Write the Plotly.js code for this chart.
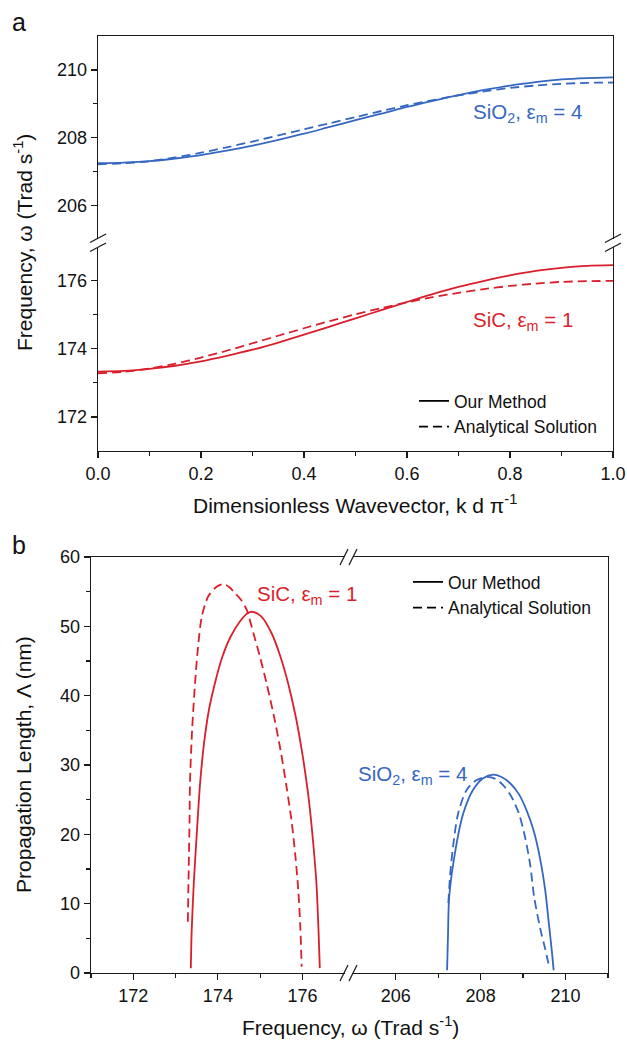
<!DOCTYPE html>
<html>
<head>
<meta charset="utf-8">
<script src="https://cdn.plot.ly/plotly-3.0.1.min.js"></script>
<style>html,body{margin:0;padding:0;background:#fff;}#chart{width:627px;height:1040px;}</style>
</head>
<body>
<div id="chart"></div>
<script>
// ---------- Panel a: dispersion, frequency vs dimensionless wavevector ----------
const kValues = [0,0.05,0.1,0.15,0.2,0.25,0.3,0.35,0.4,0.45,0.5,0.55,0.6,0.65,0.7,0.75,0.8,0.85,0.9,0.95,1.0];
const sio2OmegaOurs = [207.25,207.27,207.31,207.39,207.49,207.62,207.77,207.94,208.12,208.32,208.52,208.71,208.91,209.09,209.26,209.41,209.54,209.64,209.72,209.76,209.78];
const sio2OmegaAnalytic = [207.22,207.25,207.31,207.42,207.56,207.72,207.89,208.07,208.25,208.43,208.61,208.79,208.96,209.11,209.25,209.37,209.47,209.54,209.59,209.62,209.63];
const sicOmegaOurs = [173.33,173.35,173.41,173.50,173.63,173.79,173.97,174.18,174.41,174.65,174.89,175.13,175.37,175.60,175.81,175.99,176.15,176.28,176.37,176.43,176.45];
const sicOmegaAnalytic = [173.28,173.32,173.42,173.56,173.74,173.94,174.16,174.38,174.60,174.81,175.01,175.19,175.36,175.51,175.64,175.75,175.84,175.91,175.96,175.98,175.99];

// ---------- Panel b: propagation length vs frequency ----------
const sicFreqOurs = [173.36,173.38,173.43,173.50,173.58,173.67,173.79,173.93,174.10,174.30,174.52,174.70,174.82,175.03,175.27,175.47,175.66,175.84,176.00,176.14,176.25,176.33,176.38,176.41];
const sicLenOurs  = [0.7,6,12.9,20,27.4,33,38,41.8,45.5,48.5,50.7,51.9,52.1,51.4,49.0,45.8,41.8,37.0,31.5,25.5,19,12.9,6,0.7];
const sicFreqAnalytic = [173.29,173.31,173.33,173.34,173.39,173.46,173.53,173.62,173.77,173.97,174.13,174.28,174.40,174.55,174.68,174.84,175.00,175.15,175.32,175.48,175.62,175.74,175.83,175.90,175.95,175.98];
const sicLenAnalytic  = [7.4,15,22,27.4,35,41.8,47,51.4,54.3,55.7,56.1,55.6,54.8,53.8,52.4,49.0,45.5,41.8,37.2,32.2,27.0,22.0,17,12,6.5,0.9];
const sio2FreqOurs = [207.21,207.23,207.26,207.42,207.59,207.82,208.06,208.30,208.48,208.69,208.90,209.08,209.25,209.40,209.52,209.61,209.68,209.72];
const sio2LenOurs  = [0.4,5,11.0,18.2,23.0,26.4,28.1,28.6,28.3,27.4,25.8,23.5,20.5,16.5,12,7,3,0.4];
const sio2FreqAnalytic = [207.24,207.28,207.35,207.47,207.67,207.90,208.14,208.35,208.53,208.72,208.90,209.05,209.17,209.26,209.40,209.52,209.61];
const sio2LenAnalytic  = [10.1,14,18.2,23,26.4,27.8,28.3,28,27.1,25.5,23,19.5,15.5,11,6.5,3.5,1];

const seriesNames = ['Our Method','Analytical Solution'];
const labelSiC = 'SiC, ε<sub>m</sub> = 1';
const labelSiO2 = 'SiO<sub>2</sub>, ε<sub>m</sub> = 4';

const ticksA_top = [206,208,210], minorA_top = [207,209];
const ticksA_bot = [172,174,176], minorA_bot = [173,175];
const ticksB_left = [172,174,176], minorB_left = [171,173,175];
const ticksB_right = [206,208,210], minorB_right = [207,209,211];

// ---------- layout helpers ----------
const W = 627, H = 1040;
const px = x => x / W;
const py = y => 1 - y / H;
const RED = '#d91f2b', BLUE = '#3567c2';
const FONT = 'Arial, "Liberation Sans", sans-serif';
const LW = 1.8, DASH = '9px,5px';

function line(color, dash){ return {color: color, width: LW, dash: dash || 'solid', shape:'spline', smoothing:0.8}; }

const traces = [
  {x: kValues, y: sicOmegaOurs, xaxis:'x', yaxis:'y', mode:'lines', line: line(RED), showlegend:false},
  {x: kValues, y: sicOmegaAnalytic, xaxis:'x', yaxis:'y', mode:'lines', line: line(RED, DASH), showlegend:false},
  {x: kValues, y: sio2OmegaOurs, xaxis:'x2', yaxis:'y2', mode:'lines', line: line(BLUE), showlegend:false},
  {x: kValues, y: sio2OmegaAnalytic, xaxis:'x2', yaxis:'y2', mode:'lines', line: line(BLUE, DASH), showlegend:false},
  {x: [null], y: [null], xaxis:'x', yaxis:'y', mode:'lines', name: seriesNames[0], line: line('#000'), legend:'legend'},
  {x: [null], y: [null], xaxis:'x', yaxis:'y', mode:'lines', name: seriesNames[1], line: line('#000', DASH), legend:'legend'},

  {x: sicFreqOurs, y: sicLenOurs, xaxis:'x3', yaxis:'y3', mode:'lines', line: line(RED), showlegend:false},
  {x: sicFreqAnalytic, y: sicLenAnalytic, xaxis:'x3', yaxis:'y3', mode:'lines', line: line(RED, DASH), showlegend:false},
  {x: sio2FreqOurs, y: sio2LenOurs, xaxis:'x4', yaxis:'y4', mode:'lines', line: line(BLUE), showlegend:false},
  {x: sio2FreqAnalytic, y: sio2LenAnalytic, xaxis:'x4', yaxis:'y4', mode:'lines', line: line(BLUE, DASH), showlegend:false},
  {x: [null], y: [null], xaxis:'x3', yaxis:'y3', mode:'lines', name: seriesNames[0], line: line('#000'), legend:'legend2'},
  {x: [null], y: [null], xaxis:'x3', yaxis:'y3', mode:'lines', name: seriesNames[1], line: line('#000', DASH), legend:'legend2'}
];

const AX = '#1a1a1a';
const TICKSIZE = 18, TITLESIZE = 21, LABELSIZE = 20.5, LEGSIZE = 17.5;
const base = {showline:true, linecolor:AX, linewidth:1.3, ticks:'outside', ticklen:6, tickwidth:1.2, tickcolor:AX,
  showgrid:false, zeroline:false, fixedrange:true, tickfont:{family:FONT, size:TICKSIZE, color:'#111'}};
function minor(vals){ return {tickmode:'array', tickvals: vals, ticks:'outside', ticklen:3.5, tickwidth:1.2, tickcolor:AX, showgrid:false}; }

const aX = [px(98), px(613)];
const aYtop = [py(243), py(36)], aYbot = [py(451), py(243)];
const bXl = [px(91), px(349)], bXr = [px(349), px(608)];
const bY = [py(973), py(557)];

const layout = {
  width: W, height: H,
  margin: {l:0, r:0, t:0, b:0},
  paper_bgcolor: '#ffffff', plot_bgcolor: '#ffffff',
  font: {family: FONT, color: '#111'},
  xaxis: Object.assign({}, base, {domain: aX, anchor:'y', range:[0,1], tickmode:'linear', tick0:0, dtick:0.2, tickformat:'.1f', mirror:false,
    minor:{dtick:0.1, tick0:0, ticks:'outside', ticklen:3.5, tickwidth:1.2, tickcolor:AX, showgrid:false}}),
  yaxis: Object.assign({}, base, {domain: aYbot, anchor:'x', range:[171,177.1], tickmode:'array', tickvals: ticksA_bot, mirror:true, minor: minor(minorA_bot)}),
  xaxis2: Object.assign({}, base, {domain: aX, anchor:'y2', side:'top', range:[0,1], ticks:'', showticklabels:false, mirror:false}),
  yaxis2: Object.assign({}, base, {domain: aYtop, anchor:'x2', range:[204.9,211], tickmode:'array', tickvals: ticksA_top, mirror:true, minor: minor(minorA_top)}),

  xaxis3: Object.assign({}, base, {domain: bXl, anchor:'y3', range:[171,177.1], tickmode:'array', tickvals: ticksB_left, mirror:true, minor: minor(minorB_left)}),
  yaxis3: Object.assign({}, base, {domain: bY, anchor:'x3', range:[0,60], tickmode:'linear', tick0:0, dtick:10, mirror:false,
    minor:{dtick:5, tick0:0, ticks:'outside', ticklen:3.5, tickwidth:1.2, tickcolor:AX, showgrid:false}}),
  xaxis4: Object.assign({}, base, {domain: bXr, anchor:'y4', range:[204.9,211], tickmode:'array', tickvals: ticksB_right, mirror:true, minor: minor(minorB_right)}),
  yaxis4: Object.assign({}, base, {domain: bY, anchor:'x4', side:'right', range:[0,60], ticks:'', showticklabels:false, mirror:false}),

  legend: {x: px(414), y: py(383), xanchor:'left', yanchor:'top', bgcolor:'rgba(0,0,0,0)', borderwidth:0,
    font:{family:FONT, size:LEGSIZE, color:'#111'}, tracegroupgap:0, itemwidth:30},
  legend2: {x: px(408), y: py(564), xanchor:'left', yanchor:'top', bgcolor:'rgba(0,0,0,0)', borderwidth:0,
    font:{family:FONT, size:LEGSIZE, color:'#111'}, tracegroupgap:0, itemwidth:30},

  annotations: [
    {text:'a', xref:'paper', yref:'paper', x:px(10), y:py(22), xanchor:'left', yanchor:'middle', showarrow:false, font:{family:FONT, size:25, color:'#111'}},
    {text:'b', xref:'paper', yref:'paper', x:px(10), y:py(545), xanchor:'left', yanchor:'middle', showarrow:false, font:{family:FONT, size:25, color:'#111'}},
    {text:'Frequency, ω (Trad s<sup>-1</sup>)', xref:'paper', yref:'paper', x:px(23), y:py(243), textangle:-90, xanchor:'center', yanchor:'middle', showarrow:false, font:{family:FONT, size:TITLESIZE, color:'#111'}},
    {text:'Dimensionless Wavevector, k d π<sup>-1</sup>', xref:'paper', yref:'paper', x:px(355), y:py(504), xanchor:'center', yanchor:'middle', showarrow:false, font:{family:FONT, size:TITLESIZE, color:'#111'}},
    {text:'Propagation Length, Λ (nm)', xref:'paper', yref:'paper', x:px(23), y:py(765), textangle:-90, xanchor:'center', yanchor:'middle', showarrow:false, font:{family:FONT, size:TITLESIZE, color:'#111'}},
    {text:'Frequency, ω (Trad s<sup>-1</sup>)', xref:'paper', yref:'paper', x:px(350), y:py(1026), xanchor:'center', yanchor:'middle', showarrow:false, font:{family:FONT, size:TITLESIZE, color:'#111'}},
    {text: labelSiO2, xref:'x2', yref:'y2', x:0.724, y:208.72, xanchor:'left', yanchor:'middle', showarrow:false, font:{family:FONT, size:LABELSIZE, color:BLUE}},
    {text: labelSiC, xref:'x', yref:'y', x:0.724, y:174.8, xanchor:'left', yanchor:'middle', showarrow:false, font:{family:FONT, size:LABELSIZE, color:RED}},
    {text: labelSiC, xref:'x3', yref:'y3', x:174.88, y:54.5, xanchor:'left', yanchor:'middle', showarrow:false, font:{family:FONT, size:LABELSIZE, color:RED}},
    {text: labelSiO2, xref:'x4', yref:'y4', x:205.07, y:28.6, xanchor:'left', yanchor:'middle', showarrow:false, font:{family:FONT, size:LABELSIZE, color:BLUE}}
  ],
  shapes: []
};

// axis-break marks
function hBreak(x0, y0){ // break on a vertical axis line
  return [
    {type:'rect', xref:'paper', yref:'paper', x0:px(x0-2), x1:px(x0+2), y0:py(y0+4), y1:py(y0-4), fillcolor:'#fff', line:{width:0}, layer:'above'},
    {type:'line', xref:'paper', yref:'paper', x0:px(x0-8), y0:py(y0-0.5), x1:px(x0+8), y1:py(y0-9), line:{color:AX, width:1.3}, layer:'above'},
    {type:'line', xref:'paper', yref:'paper', x0:px(x0-8), y0:py(y0+8.5), x1:px(x0+8), y1:py(y0), line:{color:AX, width:1.3}, layer:'above'}
  ];
}
function vBreak(x0, y0){ // break on a horizontal axis line
  return [
    {type:'rect', xref:'paper', yref:'paper', x0:px(x0-4), x1:px(x0+4), y0:py(y0+2), y1:py(y0-2), fillcolor:'#fff', line:{width:0}, layer:'above'},
    {type:'line', xref:'paper', yref:'paper', x0:px(x0-9), y0:py(y0+8), x1:px(x0-1), y1:py(y0-8), line:{color:AX, width:1.3}, layer:'above'},
    {type:'line', xref:'paper', yref:'paper', x0:px(x0+0), y0:py(y0+8), x1:px(x0+8), y1:py(y0-8), line:{color:AX, width:1.3}, layer:'above'}
  ];
}
layout.shapes = [].concat(hBreak(98, 243), hBreak(613, 243), vBreak(349, 557), vBreak(349, 973));

Plotly.newPlot('chart', traces, layout, {staticPlot:true, displayModeBar:false});
</script>
</body>
</html>
